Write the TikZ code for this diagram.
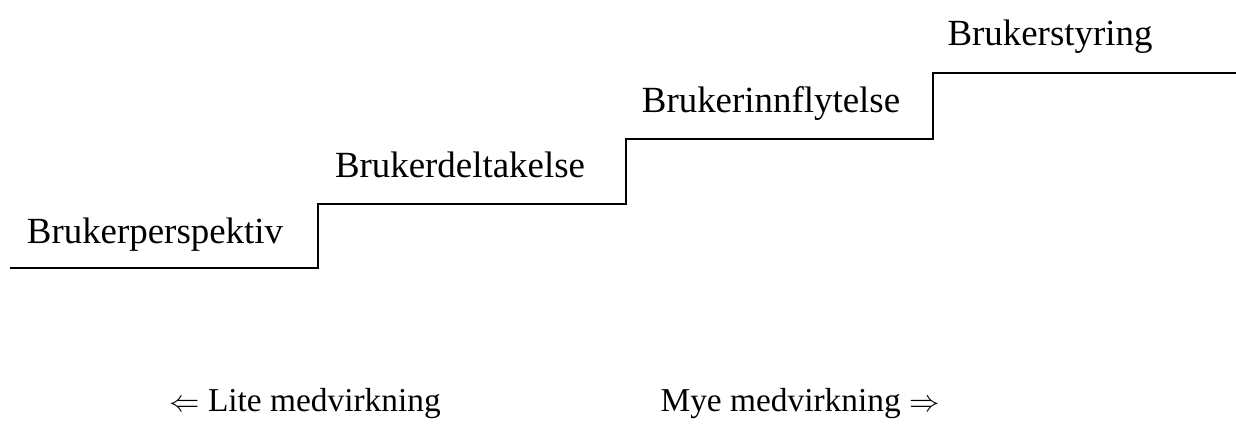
\documentclass[tikz,border=0pt]{standalone}
\usepackage{fontspec}
\setmainfont{Liberation Serif}
\usepackage{tikz}
\usetikzlibrary{positioning}

\begin{document}
\begin{tikzpicture}[
    x=0.02cm, y=-0.02cm,
    lvl/.style={anchor=base, inner sep=0pt, font=\fontsize{21}{25}\selectfont},
    axis/.style={anchor=base, inner sep=0pt, font=\fontsize{19}{23}\selectfont},
    stair/.style={line width=1.3pt, line join=miter}
]
\useasboundingbox (0,0) rectangle (1236,444);

% corners of the steps
\coordinate (p0) at (10,268);
\coordinate (p1) at (318,204);
\coordinate (p2) at (626,139);
\coordinate (p3) at (933,73);
\coordinate (p4) at (1240,73);

\draw[stair] (p0) -| (p1) -| (p2) -| (p3) -- (p4);

\node[lvl] (perspektiv) at (155,243) {Brukerperspektiv};
\node[lvl] (deltakelse) at (460,177) {Brukerdeltakelse};
\node[lvl] (innflytelse) at (771,112) {Brukerinnflytelse};
\node[lvl] (styring) at (1050,45) {Brukerstyring};

\node[axis] (lite) at (305,411) {$\Leftarrow$ Lite medvirkning};
\node[axis] (mye) at (800,411) {Mye medvirkning $\Rightarrow$};

\end{tikzpicture}
\end{document}
